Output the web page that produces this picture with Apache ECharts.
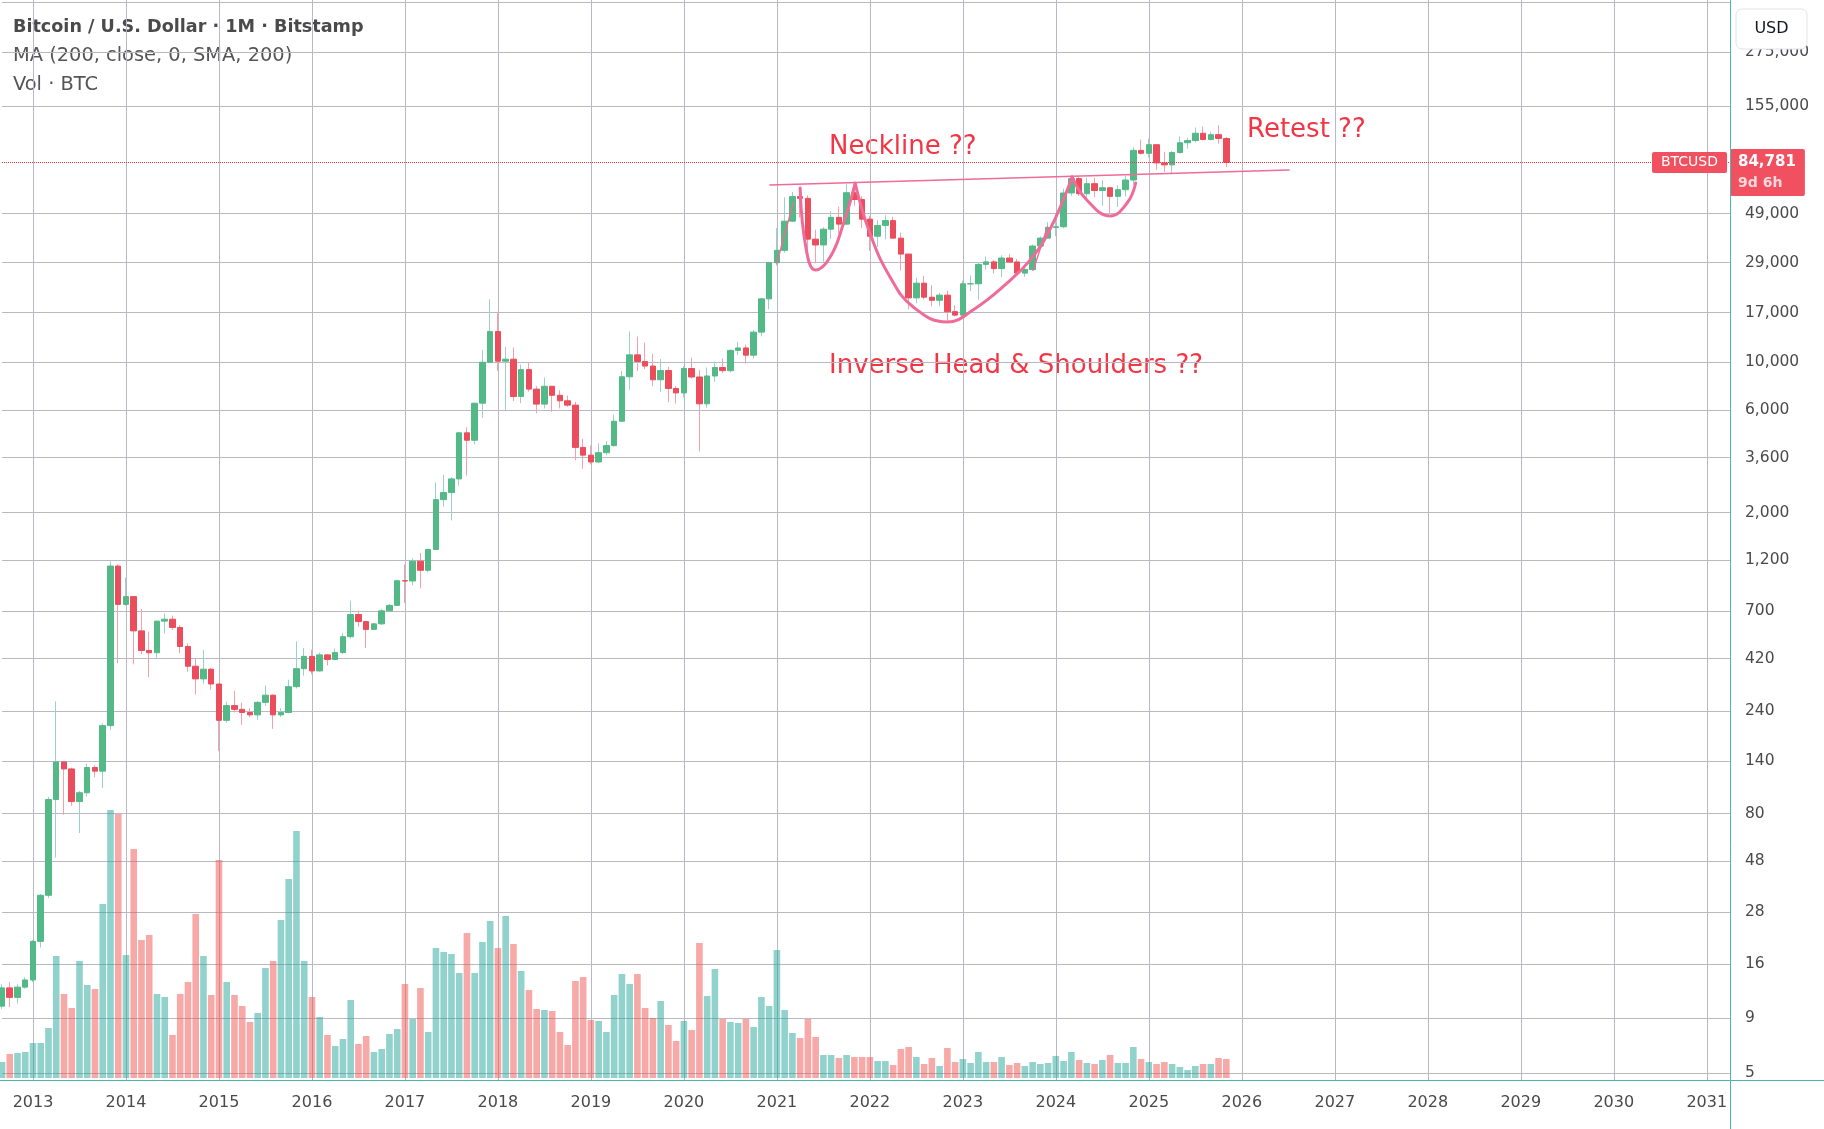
<!DOCTYPE html>
<html>
<head>
<meta charset="utf-8">
<title>Bitcoin / U.S. Dollar · 1M · Bitstamp</title>
<script src="https://cdn.jsdelivr.net/npm/echarts@6/dist/echarts.min.js"></script>
<style>
  html, body { margin: 0; padding: 0; background: #ffffff; }
  #chart { width: 1824px; height: 1129px; }
</style>
</head>
<body>
<div id="chart"></div>
<script>
// monthly candles from Sep 2012 to Nov 2025
var firstMonth = '2012-09';
var lastAxisMonth = '2031-04';

var opens = [
  10.2, 12.4, 11.2, 12.5,
  13.5, 20.4, 33.4, 93, 139, 129, 91, 100, 131, 126, 205, 1130,
  750, 815, 565, 458, 447, 627, 640, 586, 478, 387, 338, 375,
  320, 217, 254, 244, 236, 230, 263, 284, 230, 236, 311, 377,
  430, 368, 437, 416, 448, 531, 673, 624, 574, 609, 700, 742,
  966, 963, 1190, 1080, 1350, 2300, 2480, 2870, 4700, 4340, 6450, 10000,
  13880, 10110, 10330, 6930, 9240, 7500, 6390, 7730, 7020, 6620, 6320, 4020,
  3700, 3440, 3800, 4100, 5320, 8560, 10820, 10080, 9600, 8290, 9150, 7550,
  7200, 9350, 8540, 6410, 8630, 9450, 9140, 11350, 11650, 10780, 13800, 19700,
  28990, 33100, 45200, 58800, 57700, 37300, 35050, 41500, 47100, 43800, 61300, 57000,
  46200, 38500, 43200, 45500, 37700, 31800, 19900, 23300, 20050, 19400, 20500, 17170,
  16550, 23130, 23150, 28470, 29250, 27220, 30480, 29230, 25940, 26970, 34650, 37720,
  42280, 42580, 61130, 71300, 60670, 67530, 62760, 64630, 58970, 63330, 70220, 96400,
  93430, 102430, 84350, 82550, 94200, 104600, 107130, 115760, 108250, 114050, 109500
];
var closes = [
  12.4, 11.2, 12.5, 13.5,
  20.4, 33.4, 93, 139, 129, 91, 100, 131, 126, 205, 1130, 750,
  815, 565, 458, 447, 627, 640, 586, 478, 387, 338, 375, 320,
  217, 254, 244, 236, 230, 263, 284, 230, 236, 311, 377, 430,
  368, 437, 416, 448, 531, 673, 624, 574, 609, 700, 742, 966,
  963, 1190, 1080, 1350, 2300, 2480, 2870, 4700, 4340, 6450, 10000, 13880,
  10110, 10330, 6930, 9240, 7500, 6390, 7730, 7020, 6620, 6320, 4020, 3700,
  3440, 3800, 4100, 5320, 8560, 10820, 10080, 9600, 8290, 9150, 7550, 7200,
  9350, 8540, 6410, 8630, 9450, 9140, 11350, 11650, 10780, 13800, 19700, 28990,
  33100, 45200, 58800, 57700, 37300, 35050, 41500, 47100, 43800, 61300, 57000, 46200,
  38500, 43200, 45500, 37700, 31800, 19900, 23300, 20050, 19400, 20500, 17170, 16550,
  23130, 23150, 28470, 29250, 27220, 30480, 29230, 25940, 26970, 34650, 37720, 42280,
  42580, 61130, 71300, 60670, 67530, 62760, 64630, 58970, 63330, 70220, 96400, 93430,
  102430, 84350, 82550, 94200, 104600, 107130, 115760, 108250, 114050, 109500, 84781
];
var lows = [
  9.9, 10.1, 10.5, 12.3,
  13.2, 19.1, 32.4, 50, 79, 87, 65, 96, 118, 105, 196, 400,
  740, 395, 441, 344, 420, 550, 570, 445, 365, 286, 322, 300,
  156, 212, 236, 207, 224, 218, 253, 198, 225, 235, 305, 350,
  355, 365, 390, 413, 440, 520, 590, 470, 570, 602, 690, 740,
  760, 920, 890, 1060, 1340, 2130, 1840, 2670, 2970, 4150, 5520, 9900,
  9100, 5920, 6600, 6450, 7300, 5780, 6100, 5880, 6100, 6200, 3500, 3200,
  3350, 3400, 3700, 4050, 5300, 7450, 9100, 9300, 7750, 7300, 6530, 6430,
  6850, 8400, 3850, 6150, 8100, 8900, 8950, 10800, 9850, 10400, 13200, 17600,
  28100, 32300, 44900, 47000, 30000, 28800, 29300, 37400, 39600, 43300, 53300, 42000,
  32900, 34300, 37200, 37600, 26700, 17600, 18800, 19600, 18200, 18200, 15500, 16300,
  16500, 21400, 19550, 26900, 25800, 24800, 28900, 25300, 24900, 26550, 34100, 37600,
  38500, 41900, 59300, 59200, 56550, 58400, 53500, 49050, 52600, 58900, 66800, 92200,
  89200, 78200, 76600, 74600, 93300, 98200, 105100, 107300, 107300, 103500, 80600
];
var highs = [
  12.9, 13.2, 12.9, 13.9,
  20.7, 33.8, 95.7, 266, 139.5, 131, 102, 136, 134, 210, 1190, 1150,
  1000, 820, 714, 560, 632, 680, 665, 600, 494, 423, 460, 380,
  320, 265, 298, 262, 247, 267, 315, 286, 247, 335, 505, 470,
  462, 448, 439, 468, 554, 780, 703, 626, 613, 714, 753, 975,
  1150, 1230, 1300, 1355, 2760, 3000, 2920, 4750, 4980, 6470, 11400, 19600,
  17150, 11800, 11700, 9750, 9990, 7750, 8500, 7750, 7410, 7000, 6550, 4400,
  4100, 4200, 4300, 5700, 9100, 13880, 13150, 12350, 10950, 10350, 9500, 7750,
  9600, 10500, 9200, 9450, 10070, 10400, 11450, 12450, 12070, 14100, 19900, 29300,
  41950, 58350, 61800, 64900, 59600, 41300, 42400, 50500, 52900, 67000, 69000, 59100,
  47900, 45800, 48200, 47400, 40000, 31900, 24700, 25200, 22800, 21000, 21500, 18400,
  23950, 25250, 29200, 31000, 29800, 31400, 31800, 30200, 27500, 35200, 38400, 44700,
  48950, 64000, 73800, 72800, 72000, 71950, 70000, 65100, 66500, 73600, 99600, 108300,
  109500, 102500, 95000, 95700, 111900, 110500, 123200, 124500, 117900, 126200, 111200
];
// monthly volume, relative units
var volumes = [
  16, 24, 25, 26,
  35, 35, 50, 122, 84, 70, 117, 93, 89, 174, 268, 264,
  123, 229, 138, 143, 84, 81, 43, 84, 96, 164, 122, 83,
  218, 96, 83, 72, 56, 65, 110, 117, 158, 199, 247, 117,
  81, 61, 43, 32, 39, 78, 34, 42, 26, 29, 44, 49,
  94, 59, 90, 46, 130, 126, 124, 105, 145, 105, 136, 157,
  130, 162, 134, 107, 88, 69, 68, 67, 46, 33, 97, 101,
  58, 57, 46, 83, 104, 94, 104, 70, 60, 77, 53, 37,
  57, 48, 135, 82, 109, 59, 56, 55, 59, 51, 81, 72,
  128, 68, 45, 40, 59, 41, 23, 23, 20, 23, 21, 21,
  21, 17, 17, 13, 29, 31, 21, 14, 20, 12, 30, 16,
  19, 15, 26, 16, 16, 21, 13, 15, 12, 16, 14, 15,
  22, 17, 26, 18, 15, 14, 18, 23, 15, 15, 31, 19,
  16, 14, 16, 14, 11, 8, 12, 14, 14, 20, 19
];

var priceTicks = [5, 9, 16, 28, 48, 80, 140, 240, 420, 700, 1200, 2000, 3600, 6000,
  10000, 17000, 29000, 49000, 155000, 275000];
var priceGridLines = priceTicks.concat([470000]);
var lastPrice = 84781;
var countdown = '9d 6h';

// hand-drawn pattern, as [month index from Sep 2012, price]
var neckline = [[99.1, 66600], [166.1, 78200]];
var leftShoulder = [[103.0, 64500], [103.8, 33200], [105.0, 26800], [106.9, 30900], [108.6, 44200], [110.1, 67800]];
var headCurve = [[110.1, 67800], [112.0, 39800], [114.6, 24900], [117.6, 18050], [122.0, 15390],
  [125.3, 17480], [129.7, 23300], [132.7, 29900], [135.2, 41100], [138.1, 72500]];
var rightShoulder = [[138.1, 72500], [140.0, 56700], [143.0, 47800], [145.2, 54900], [146.3, 68000]];
var strokeA = [[100.0, 28900], [102.1, 54900]];
var strokeB = [[133.1, 26800], [134.9, 42500]];

var months = [];
(function () {
  var y = +firstMonth.slice(0, 4), m = +firstMonth.slice(5);
  while (true) {
    var s = y + '-' + (m < 10 ? '0' : '') + m;
    months.push(s);
    if (s === lastAxisMonth) break;
    m++;
    if (m > 12) { m = 1; y++; }
  }
})();

var FONT = 'DejaVu Sans';
var gridColor = '#b8b9c5';
var upColor = '#53b987', downColor = '#eb4d5c';
var upWick = '#9dcfcb', downWick = '#f4a2aa';
var frameColor = '#4db6ac';
var tagColor = '#f0505f';
var noteColor = '#f23645';
var penColor = '#ef6b98';

var fullCandles = opens.map(function (o, i) { return [o, closes[i], lows[i], highs[i]]; });
var bodyCandles = opens.map(function (o, i) {
  return [o, closes[i], Math.min(o, closes[i]), Math.max(o, closes[i])];
});
var volData = volumes.map(function (v, i) {
  return {
    value: v,
    itemStyle: { color: closes[i] >= opens[i] ? 'rgba(38,166,154,0.5)' : 'rgba(239,83,80,0.5)' }
  };
});

function isJanuary(idx, val) { return val.slice(5) === '01'; }

function pen(data, width, color) {
  return {
    type: 'line', xAxisIndex: 2, yAxisIndex: 0, data: data,
    smooth: 0.45, symbol: 'none', silent: true, z: 6,
    lineStyle: { color: color, width: width, cap: 'round' }
  };
}

var chart = echarts.init(document.getElementById('chart'));
var option = {
  animation: false,
  backgroundColor: '#ffffff',
  grid: [
    { left: 2, right: 94, top: 0, bottom: 49 },
    { left: 2, right: 94, top: 678, bottom: 51 }
  ],
  xAxis: [
    {
      type: 'category', gridIndex: 0, data: months, boundaryGap: false,
      axisLine: { show: false }, axisTick: { show: false },
      axisLabel: {
        interval: isJanuary, formatter: function (v) { return v.slice(0, 4); },
        color: '#4a4a4a', fontFamily: FONT, fontSize: 16, margin: 15
      },
      splitLine: { show: true, interval: isJanuary, lineStyle: { color: gridColor, width: 1 } }
    },
    { type: 'category', gridIndex: 1, data: months, boundaryGap: false, show: false },
    { type: 'value', gridIndex: 0, min: 0, max: months.length - 1, show: false }
  ],
  yAxis: [
    {
      type: 'log', gridIndex: 0, position: 'right', logBase: 10,
      min: 4.63, max: 481600,
      axisLine: { show: false },
      axisTick: { show: false, customValues: priceGridLines },
      axisLabel: {
        customValues: priceTicks,
        formatter: function (v) { return Math.round(v).toLocaleString('en-US'); },
        color: '#4a4a4a', fontFamily: FONT, fontSize: 15.5, margin: 15
      },
      splitLine: { show: true, lineStyle: { color: gridColor, width: 1 } }
    },
    { type: 'value', gridIndex: 1, min: 0, max: 400, show: false }
  ],
  series: [
    {
      name: 'Vol', type: 'bar', xAxisIndex: 1, yAxisIndex: 1,
      data: volData, barWidth: 6.6, silent: true, z: 1
    },
    {
      name: 'wicks', type: 'candlestick', xAxisIndex: 0, yAxisIndex: 0,
      data: fullCandles, barWidth: 0.4, silent: true, z: 2,
      itemStyle: { color: upWick, color0: downWick, borderColor: upWick, borderColor0: downWick, borderWidth: 1 }
    },
    {
      name: 'BTCUSD', type: 'candlestick', xAxisIndex: 0, yAxisIndex: 0,
      data: bodyCandles, barWidth: 6, silent: true, z: 3,
      itemStyle: { color: upColor, color0: downColor, borderColor: upColor, borderColor0: downColor, borderWidth: 1 },
      markLine: {
        symbol: 'none', silent: true, animation: false,
        lineStyle: { color: noteColor, type: 'dotted', width: 1 },
        data: [
          {
            yAxis: lastPrice,
            label: {
              show: true, position: 'end', distance: 0, offset: [0, 10],
              formatter: '{p|' + lastPrice.toLocaleString('en-US') + '}\n{t|' + countdown + '}',
              backgroundColor: tagColor, padding: [3, 9, 3, 8], borderRadius: 2,
              rich: {
                p: { color: '#ffffff', fontFamily: FONT, fontSize: 15, fontWeight: 'bold', lineHeight: 21 },
                t: { color: 'rgba(255,255,255,0.78)', fontFamily: FONT, fontSize: 14, fontWeight: 'bold', lineHeight: 20 }
              }
            }
          },
          {
            yAxis: lastPrice,
            label: {
              show: true, position: 'end', distance: 0, offset: [-78, 0],
              formatter: 'BTCUSD', color: '#ffffff', fontFamily: FONT, fontSize: 14,
              backgroundColor: tagColor, padding: [4, 9, 3, 9], borderRadius: 2
            }
          }
        ]
      }
    },
    pen(neckline, 1.6, penColor),
    pen(strokeA, 1.4, penColor),
    pen(strokeB, 1.4, penColor),
    pen(leftShoulder, 3, penColor),
    pen(headCurve, 3, penColor),
    pen(rightShoulder, 3, penColor)
  ],
  graphic: [
    { type: 'text', x: 13, y: 27, style: { text: 'Bitcoin / U.S. Dollar · 1M · Bitstamp', font: 'bold 17.6px "DejaVu Sans"', fill: '#4a4a4a', verticalAlign: 'middle' } },
    { type: 'text', x: 13, y: 56, style: { text: 'MA (200, close, 0, SMA, 200)', font: '19.4px "DejaVu Sans"', fill: '#555555', verticalAlign: 'middle' } },
    { type: 'text', x: 13, y: 85, style: { text: 'Vol · BTC', font: '19.4px "DejaVu Sans"', fill: '#555555', verticalAlign: 'middle' } },
    { type: 'text', x: 829, y: 147, style: { text: 'Neckline ??', font: '26px "DejaVu Sans"', fill: noteColor, verticalAlign: 'middle' } },
    { type: 'text', x: 1247, y: 130, style: { text: 'Retest ??', font: '26px "DejaVu Sans"', fill: noteColor, verticalAlign: 'middle' } },
    { type: 'text', x: 829, y: 366, style: { text: 'Inverse Head & Shoulders ??', font: '26px "DejaVu Sans"', fill: noteColor, verticalAlign: 'middle' } },
    { type: 'line', z: 100, shape: { x1: 1730.5, y1: 0, x2: 1730.5, y2: 1129 }, style: { stroke: frameColor, lineWidth: 1 } },
    { type: 'line', z: 100, shape: { x1: 0, y1: 1080.5, x2: 1824, y2: 1080.5 }, style: { stroke: frameColor, lineWidth: 1 } },
    { type: 'rect', z: 100, shape: { x: 1736, y: 9, width: 71, height: 40, r: 6 }, style: { fill: '#ffffff', stroke: '#e0e3eb', lineWidth: 1 } },
    { type: 'text', z: 101, x: 1771.5, y: 29, style: { text: 'USD', font: '16px "DejaVu Sans"', fill: '#131722', align: 'center', verticalAlign: 'middle' } }
  ]
};
chart.setOption(option);
</script>
</body>
</html>
